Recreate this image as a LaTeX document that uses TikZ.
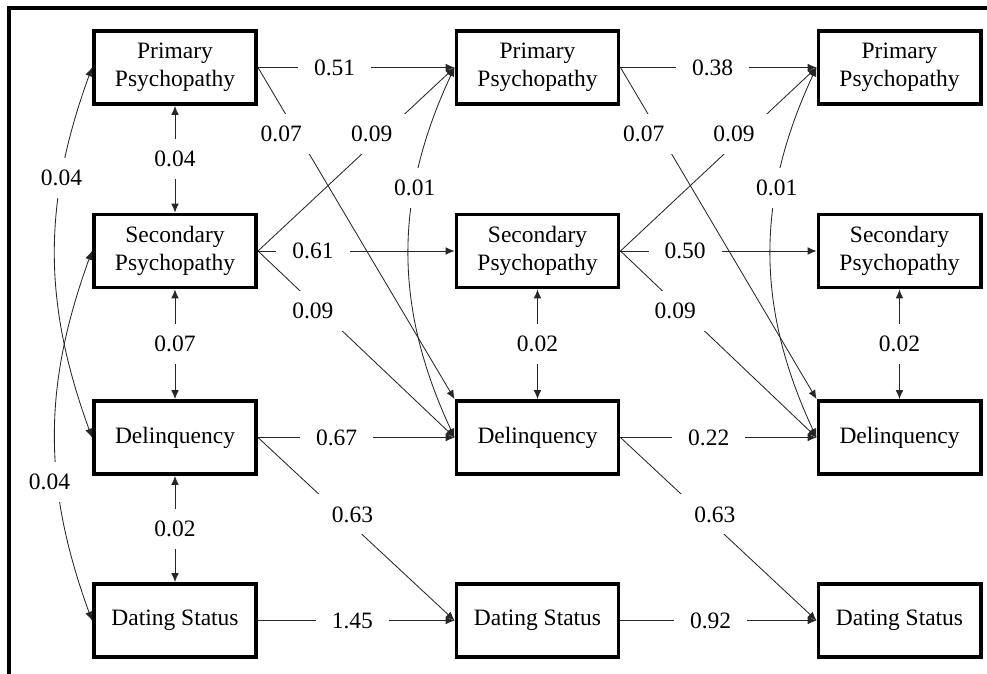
\documentclass[tikz,border=0pt]{standalone}
\usepackage{fontspec}
\setmainfont{Liberation Serif}
\usetikzlibrary{arrows.meta}
\begin{document}
\begin{tikzpicture}[x=0.025cm, y=-0.025cm, line join=miter,
  font=\fontsize{16.7}{20}\selectfont,
  var/.style={draw, line width=2.8pt, minimum width=4.05cm, minimum height=1.825cm, align=center, inner sep=0pt},
  eff/.style={-{Latex[length=2.2mm,width=1.9mm]}, line width=0.6pt, black!85},
  cov/.style={{Latex[length=2.2mm,width=1.9mm]}-{Latex[length=2.2mm,width=1.9mm]}, line width=0.6pt, black!85},
  est/.style={fill=white, text=black, inner xsep=0.4cm, inner ysep=0.3cm}]
  \useasboundingbox (0,0) rectangle (987,674);
  % wave 1
  \node[var] (pri1) at (175,67.5) {Primary\\Psychopathy};
  \node[var] (sec1) at (175,251) {Secondary\\Psychopathy};
  \node[var] (del1) at (175,437.5) {Delinquency};
  \node[var] (dat1) at (175,620.5) {Dating Status};
  % wave 2
  \node[var] (pri2) at (537.5,67.5) {Primary\\Psychopathy};
  \node[var] (sec2) at (537.5,251) {Secondary\\Psychopathy};
  \node[var] (del2) at (537.5,437.5) {Delinquency};
  \node[var] (dat2) at (537.5,620.5) {Dating Status};
  % wave 3
  \node[var] (pri3) at (899.5,67.5) {Primary\\Psychopathy};
  \node[var] (sec3) at (899.5,251) {Secondary\\Psychopathy};
  \node[var] (del3) at (899.5,437.5) {Delinquency};
  \node[var] (dat3) at (899.5,620.5) {Dating Status};

  % covariances
  \draw[cov] (pri1.south) -- node[est] {0.04} (sec1.north);
  \draw[cov] (sec1.south) -- node[est] {0.07} (del1.north);
  \draw[cov] (del1.south) -- node[est] {0.02} (dat1.north);
  \draw[cov] (sec2.south) -- node[est] {0.02} (del2.north);
  \draw[cov] (sec3.south) -- node[est] {0.02} (del3.north);
  \draw[cov] (pri1.west) to[bend right=20] node[est, pos=0.29, inner xsep=0.25cm] {0.04} (del1.west);
  \draw[cov] (sec1.west) to[bend right=20] node[est, pos=0.63, inner xsep=0.25cm, xshift=-0.2cm] {0.04} (dat1.west);
  \draw[cov] (pri2.west) to[bend right=25] node[est, pos=0.32] {0.01} (del2.west);
  \draw[cov] (pri3.west) to[bend right=25] node[est, pos=0.32] {0.01} (del3.west);

  % stability paths
  \draw[eff] (pri1.east) -- node[est, pos=0.39] {0.51} (pri2.west);
  \draw[eff] (sec1.east) -- node[est, pos=0.28] {0.61} (sec2.west);
  \draw[eff] (del1.east) -- node[est, pos=0.40] {0.67} (del2.west);
  \draw[eff] (dat1.east) -- node[est, pos=0.48] {1.45} (dat2.west);
  \draw[eff] (pri2.east) -- node[est, pos=0.47] {0.38} (pri3.west);
  \draw[eff] (sec2.east) -- node[est, pos=0.33] {0.50} (sec3.west);
  \draw[eff] (del2.east) -- node[est, pos=0.45] {0.22} (del3.west);
  \draw[eff] (dat2.east) -- node[est, pos=0.46] {0.92} (dat3.west);

  % cross-lagged paths
  \draw[eff] (pri1.east) -- node[est, pos=0.2, xshift=-0.4cm] {0.07} (del2.north west);
  \draw[eff] (sec1.east) -- node[est, pos=0.64, xshift=-0.3cm] {0.09} (pri2.west);
  \draw[eff] (sec1.east) -- node[est, pos=0.32, xshift=-0.2cm] {0.09} (del2.west);
  \draw[eff] (del1.east) -- node[est, pos=0.42, xshift=0.3cm] {0.63} (dat2.west);
  \draw[eff] (pri2.east) -- node[est, pos=0.2, xshift=-0.4cm] {0.07} (del3.north west);
  \draw[eff] (sec2.east) -- node[est, pos=0.64, xshift=-0.3cm] {0.09} (pri3.west);
  \draw[eff] (sec2.east) -- node[est, pos=0.32, xshift=-0.2cm] {0.09} (del3.west);
  \draw[eff] (del2.east) -- node[est, pos=0.42, xshift=0.3cm] {0.63} (dat3.west);

  % frame
  \draw[line width=2.2pt] (9,674) -- (9,8) -- (987,8);
\end{tikzpicture}
\end{document}
